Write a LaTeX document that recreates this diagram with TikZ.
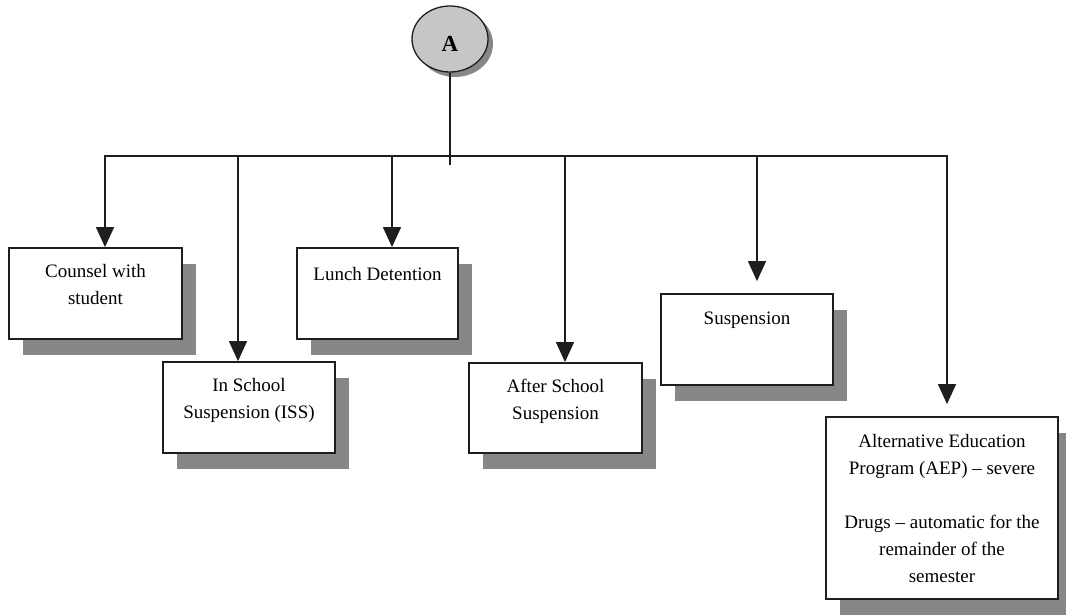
\documentclass[tikz,border=0pt]{standalone}
\usepackage{fontspec}
\setmainfont{Liberation Serif}
\usetikzlibrary{arrows.meta,shapes.geometric,shadows,calc}
\definecolor{ink}{RGB}{30,30,30}
\definecolor{shade}{RGB}{135,135,135}
\definecolor{bubble}{RGB}{198,198,200}
\begin{document}
\begin{tikzpicture}[x=1pt,y=-1pt,
  box/.style={draw=ink, line width=1.8pt, fill=white, inner sep=0pt,
    drop shadow={shadow xshift=14pt, shadow yshift=-16pt, fill=shade, opacity=1}},
  caption/.style={anchor=north, inner sep=0pt, align=center,
    font=\fontsize{19}{27}\selectfont, text=black},
  link/.style={draw=ink, line width=1.3pt},
  arr/.style={link, -{Triangle[width=18pt,length=20pt]}}
]
\useasboundingbox (0,0) rectangle (1066,615);

% start bubble
\node[ellipse, draw=ink, line width=1.3pt, fill=bubble, minimum width=76pt,
  minimum height=66pt, inner sep=0pt,
  drop shadow={shadow xshift=5pt, shadow yshift=-5pt, fill=shade, opacity=1}] (A) at (450,39) {};
\node[font=\bfseries\fontsize{23}{26}\selectfont, inner sep=0pt] (Alabel) at (450,44) {A};

% outcome boxes
\node[box, minimum width=173pt, minimum height=91pt] (counsel) at (95.5,293.5) {};
\node[box, minimum width=172pt, minimum height=91pt] (iss) at (249,407.5) {};
\node[box, minimum width=161pt, minimum height=91pt] (lunch) at (377.5,293.5) {};
\node[box, minimum width=173pt, minimum height=90pt] (after) at (555.5,408) {};
\node[box, minimum width=172pt, minimum height=91pt] (susp) at (747,339.5) {};
\node[box, minimum width=232pt, minimum height=182pt] (aep) at (942,508) {};

\node[caption] (counselT) at ([yshift=-17pt]counsel.north) {Counsel with\\student};
\node[caption] (issT) at ([yshift=-17pt]iss.north) {In School\\Suspension (ISS)};
\node[caption] (lunchT) at ([yshift=-20pt]lunch.north) {Lunch Detention};
\node[caption] (afterT) at ([yshift=-17pt]after.north) {After School\\Suspension};
\node[caption] (suspT) at ([yshift=-19pt]susp.north) {Suspension};
\node[caption] (aepT) at ([yshift=-18pt]aep.north)
  {Alternative Education\\Program (AEP) -- severe\\[27pt]Drugs -- automatic for the\\remainder of the\\semester};

% branch points on the bar
\coordinate (hub) at (450,156);
\coordinate (tail) at (450,165);
\coordinate (barL) at (105,156);
\coordinate (barR) at (947,156);
\coordinate (tISS) at (238,156);
\coordinate (tLunch) at (392,156);
\coordinate (tAfter) at (565,156);
\coordinate (tSusp) at (757,156);

% connectors
\draw[link] (A.south) -- (tail);
\draw[arr] (hub) -- (barL) -- (barL |- counsel.north);
\draw[arr] (hub) -- (barR) -- ($(barR |- aep.north)+(0,-12)$);
\draw[arr] (tISS) -- (tISS |- iss.north);
\draw[arr] (tLunch) -- (tLunch |- lunch.north);
\draw[arr] (tAfter) -- (tAfter |- after.north);
\draw[arr] (tSusp) -- ($(tSusp |- susp.north)+(0,-12)$);
\end{tikzpicture}
\end{document}
